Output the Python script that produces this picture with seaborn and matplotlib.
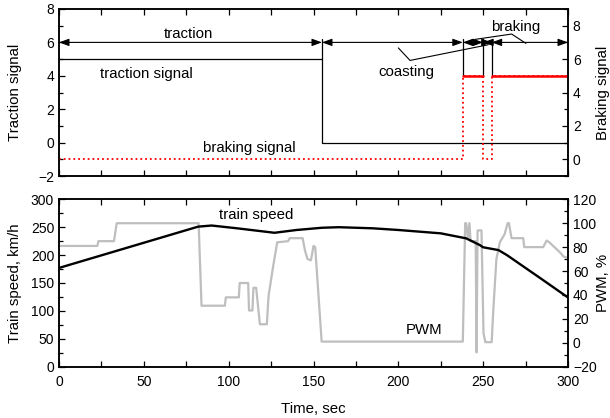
import matplotlib
matplotlib.use("Agg")
import matplotlib.pyplot as plt
import numpy as np
import pandas as pd
import seaborn as sns
from matplotlib.ticker import MultipleLocator

# ---------------- data ----------------
time_traction = [0, 155, 155, 300]
traction_signal = [5, 5, 0, 0]

time_braking = [0, 238, 238, 250, 250, 255, 255, 300]
braking_signal = [0, 0, 5, 5, 0, 0, 5, 5]
# segments where braking is active (solid red)
brake_on_time = [238, 250, 255, 300]
brake_on_value = [5, 5, 5, 5]
brake_on_seg = [1, 1, 2, 2]

time_speed = [0, 82, 90, 105, 127, 140, 155, 165, 185, 200, 225, 240, 248, 250,
              259, 264, 274, 284, 300]
train_speed = [177, 251, 253, 248, 240, 245, 249, 250, 248, 245, 239, 230, 218, 214,
               209, 200, 179, 158, 124]

time_pwm = [0, 22.6, 23.2, 32.4, 34.0, 82.3, 84.0, 97.8, 98.3, 106.0, 106.5, 111.5,
            112.0, 114.0, 114.6, 116.2, 118.4, 122.5, 123.5, 126.0, 128.6, 135.0,
            136.0, 143.6, 145.0, 146.5, 148.5, 150.0, 151.0, 154.8, 238.0, 239.4,
            240.0, 241.0, 241.9, 242.6, 245.6, 246.1, 246.7, 249.0, 250.2, 251.3,
            255.0, 256.0, 257.8, 259.8, 262.7, 264.4, 265.2, 266.7, 273.6, 274.2,
            285.4, 287.4, 289.0, 292.0, 295.0, 297.5, 300.0]
pwm = [81, 81, 85, 85, 100, 100, 31, 31, 38, 38, 50, 50,
       27, 27, 46, 46, 15.5, 15.5, 39, 62, 84, 85,
       87.5, 87.5, 77, 70, 69, 81, 80, 1, 1, 100,
       100, 88, 100, 85, 85, -8, 94, 94, 8, 0.5,
       0.5, 28, 70, 84, 91, 100, 100, 87.5, 87.5, 80,
       80, 85.5, 84, 80, 76, 72, 71]

x_ticks = [0, 50, 100, 150, 200, 250, 300]

# phase annotations (top panel)
phase_bounds = [0, 155, 238, 250, 255, 300]
phase_marker_top = 6.2

FONT = ["Liberation Sans", "DejaVu Sans"]
TXT = 10.8

sns.set_theme(style="ticks")
plt.rcParams["font.family"] = FONT
plt.rcParams.update({
    "axes.linewidth": 1.1,
    "xtick.direction": "in", "ytick.direction": "in",
    "xtick.major.size": 4.5, "ytick.major.size": 4.5,
    "xtick.minor.size": 4.0, "ytick.minor.size": 3.0,
    "xtick.major.width": 0.9, "ytick.major.width": 0.9,
    "xtick.minor.width": 0.9, "ytick.minor.width": 0.9,
    "xtick.labelsize": 10, "ytick.labelsize": 10,
    "axes.labelsize": TXT,
    "xtick.color": "black", "ytick.color": "black",
    "axes.edgecolor": "black", "text.color": "black",
    "axes.labelcolor": "black",
})

W, H = 610, 418
fig = plt.figure(figsize=(W / 100, H / 100), dpi=100)
L = 59 / W
Wd = 509 / W
ax1 = fig.add_axes([L, 1 - 176 / H, Wd, 167 / H])
ax2 = fig.add_axes([L, 1 - 366.7 / H, Wd, 167.4 / H])
ax1r = ax1.twinx()
ax2r = ax2.twinx()

# ---------- top panel ----------
sns.lineplot(x=time_traction, y=traction_signal, ax=ax1, sort=False, estimator=None,
             color="black", linewidth=0.9)
sns.lineplot(x=time_braking, y=braking_signal, ax=ax1r, sort=False, estimator=None,
             color="#ff0000", linewidth=1.3, linestyle=":")
df_on = pd.DataFrame({"t": brake_on_time, "v": brake_on_value, "seg": brake_on_seg})
sns.lineplot(data=df_on, x="t", y="v", units="seg", estimator=None, ax=ax1r,
             color="#ff0000", linewidth=1.8, sort=False)

ax1.set_xlim(0, 300)
ax1.set_ylim(-2, 8)
ax1r.set_ylim(-1, 9)
ax1.set_yticks([-2, 0, 2, 4, 6, 8])
ax1.yaxis.set_minor_locator(MultipleLocator(1))
ax1r.set_yticks([0, 2, 4, 6, 8])
ax1r.yaxis.set_minor_locator(MultipleLocator(1))
ax1.set_xticks(x_ticks)
ax1.xaxis.set_minor_locator(MultipleLocator(25))
ax1.tick_params(axis="x", which="both", top=True, bottom=True, labelbottom=False)
ax1.tick_params(axis="y", which="both", right=False)
ax1r.tick_params(axis="y", which="both", left=False, right=True)
ax1.set_xlabel("")
ax1.set_ylabel("Traction signal")
ax1r.set_ylabel("Braking signal")
ax1.yaxis.set_label_coords(-0.072, 0.5)
ax1r.yaxis.set_label_coords(1.0545, 0.5)

# phase arrows
for a, b in zip(phase_bounds[:-1], phase_bounds[1:]):
    ax1.annotate("", xy=(b, 6), xytext=(a, 6), xycoords="data",
                 arrowprops=dict(arrowstyle="<|-|>,head_length=0.6,head_width=0.22",
                                 color="black", lw=0.8, shrinkA=0, shrinkB=0,
                                 mutation_scale=10))
# vertical phase markers
ax1.plot([155, 155], [phase_marker_top, 5], color="black", lw=0.9)
for tb in phase_bounds[2:5]:
    ax1.plot([tb, tb], [phase_marker_top, 4], color="black", lw=0.9)

# pointer lines
coast_x = [200, 206.9, 253]
coast_y = [5.67, 4.92, 5.86]
brake_x = [245.2, 266.8, 275.2]
brake_y = [6.18, 6.5, 5.94]
ax1.plot(coast_x, coast_y, color="black", lw=0.8)
ax1.plot(brake_x, brake_y, color="black", lw=0.8)

ax1.text(76.6, 6.52, "traction", ha="center", va="center", fontsize=TXT)
ax1.text(51.5, 4.12, "traction signal", ha="center", va="center", fontsize=TXT)
ax1.text(112.2, -0.3, "braking signal", ha="center", va="center", fontsize=TXT)
ax1.text(204.9, 4.24, "coasting", ha="center", va="center", fontsize=TXT)
ax1.text(268.9, 6.94, "braking", ha="center", va="center", fontsize=TXT)

# ---------- bottom panel ----------
sns.lineplot(x=time_pwm, y=pwm, ax=ax2r, sort=False, estimator=None,
             color="#bebebe", linewidth=1.6)
sns.lineplot(x=time_speed, y=train_speed, ax=ax2, sort=False, estimator=None,
             color="black", linewidth=1.7)
ax2.set_zorder(ax2r.get_zorder() + 1)
ax2.patch.set_visible(False)

ax2.set_xlim(0, 300)
ax2.set_ylim(0, 300)
ax2r.set_ylim(-20, 120)
ax2.set_yticks([0, 50, 100, 150, 200, 250, 300])
ax2.yaxis.set_minor_locator(MultipleLocator(25))
ax2r.set_yticks([-20, 0, 20, 40, 60, 80, 100, 120])
ax2r.yaxis.set_minor_locator(MultipleLocator(10))
ax2.set_xticks(x_ticks)
ax2.set_xticklabels([str(t) for t in x_ticks])
ax2.xaxis.set_minor_locator(MultipleLocator(25))
ax2.tick_params(axis="x", which="both", top=True, bottom=True, pad=6)
ax2.tick_params(axis="y", which="both", right=False)
ax2r.tick_params(axis="y", which="both", left=False, right=True)
ax2.set_xlabel("Time, sec", labelpad=9)
ax2.set_ylabel("Train speed, km/h")
ax2r.set_ylabel("PWM, %")
ax2.yaxis.set_label_coords(-0.072, 0.5)
ax2r.yaxis.set_label_coords(1.0545, 0.5)

ax2.text(116.3, 272, "train speed", ha="center", va="center", fontsize=TXT)
ax2.text(215.3, 66, "PWM", ha="center", va="center", fontsize=TXT)

for ax in (ax1, ax1r, ax2, ax2r):
    for s in ax.spines.values():
        s.set_visible(True)
        s.set_color("black")
        s.set_linewidth(1.1)

fig.savefig("out.png", dpi=100)
